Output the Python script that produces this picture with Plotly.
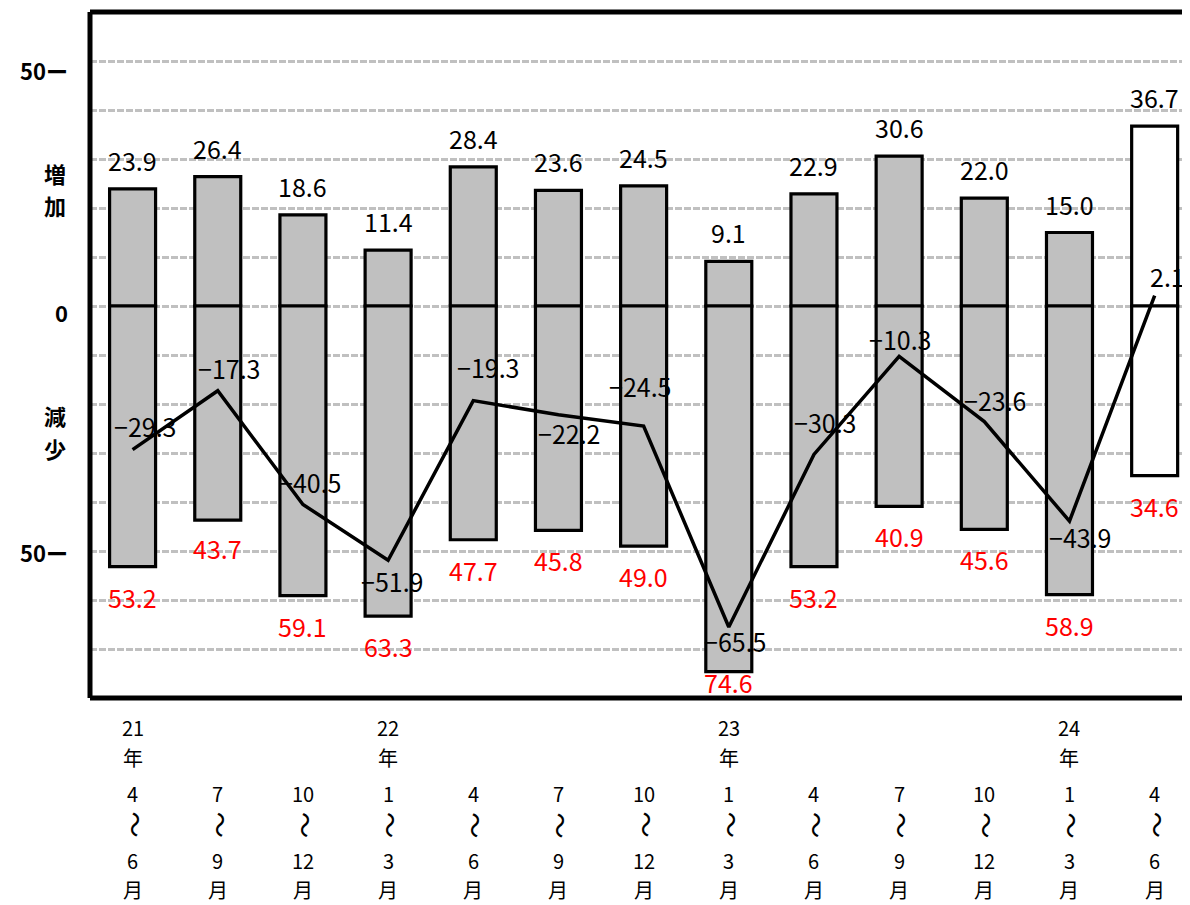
import plotly.graph_objects as go

# ---- data ----
years = ["21", "", "", "22", "", "", "", "23", "", "", "", "24", ""]
start_months = ["4", "7", "10", "1", "4", "7", "10", "1", "4", "7", "10", "1", "4"]
end_months = ["6", "9", "12", "3", "6", "9", "12", "3", "6", "9", "12", "3", "6"]
increase = [23.9, 26.4, 18.6, 11.4, 28.4, 23.6, 24.5, 9.1, 22.9, 30.6, 22.0, 15.0, 36.7]
decrease = [53.2, 43.7, 59.1, 63.3, 47.7, 45.8, 49.0, 74.6, 53.2, 40.9, 45.6, 58.9, 34.6]
net = [-29.3, -17.3, -40.5, -51.9, -19.3, -22.2, -24.5, -65.5, -30.3, -10.3, -23.6, -43.9, 2.1]
ytick_vals = [50, 0, -50]
ytick_text = ["50ー", "0", "50ー"]

# ---- styles ----
fill_colors = ["#c0c0c0"] * 12 + ["#ffffff"]
net_dx = [12, 11, 7, 4, 15, 11, -4, 6, 11, 1, 11, 11, 13]
net_dy = [24, 23, 22, -21, 34, -18, 40, -14, 32, 17, 22, -16, 20]
dec_dy = [-30, -28, -30, -30, -30, -30, -30, -10, -30, -30, -30, -30, -30]
FONT = "Noto Sans CJK JP, DejaVu Sans, sans-serif"
PAGE_OFF = 8  # body margin of the html page

x = list(range(len(increase)))

fig = go.Figure()
fig.add_bar(x=x, y=increase, width=0.54, marker=dict(color=fill_colors, line=dict(color="black", width=3.2)))
fig.add_bar(x=x, y=[-d for d in decrease], width=0.54, marker=dict(color=fill_colors, line=dict(color="black", width=3.2)))
fig.add_scatter(x=x, y=net, mode="lines", line=dict(color="black", width=3.5))

ann = []
for i in x:
    ann.append(dict(x=i, y=increase[i], text=f"{increase[i]:.1f}", showarrow=False,
                    yanchor="middle", yshift=29, font=dict(size=25, color="black", family=FONT)))
    ann.append(dict(x=i, y=-decrease[i], text=f"{decrease[i]:.1f}", showarrow=False,
                    yanchor="middle", yshift=dec_dy[i], font=dict(size=25, color="red", family=FONT)))
    t = f"{net[i]:.1f}".replace("-", "\u2212")
    ann.append(dict(x=i, y=net[i], text=t, showarrow=False, yanchor="middle",
                    xshift=net_dx[i], yshift=net_dy[i], font=dict(size=25, color="black", family=FONT)))
    rows = [years[i], "年" if years[i] else "", start_months[i], "\u301c", end_months[i], "月"]
    offs = [29, 59, 95, 127, 162, 191]
    for r, (txt, o) in enumerate(zip(rows, offs)):
        if not txt:
            continue
        ann.append(dict(x=i, xref="x", y=0, yref="paper", text=txt, showarrow=False,
                        yanchor="middle", yshift=-o, textangle=-90 if r == 3 else 0,
                        font=dict(size=26 if r == 3 else 20, color="black", family=FONT)))

for v, t, s in zip(ytick_vals, ytick_text, [-9, -6, -1]):
    ann.append(dict(x=0, xref="paper", y=v, yref="y", text=f"<b>{t}</b>", showarrow=False,
                    xanchor="right", xshift=-20, yanchor="middle", yshift=s,
                    font=dict(size=22, color="black", family=FONT)))
for ch, yv in [("増", 27.1), ("加", 20.6), ("減", -22.2), ("少", -29.0)]:
    ann.append(dict(x=0, xref="paper", y=yv, yref="y", text=f"<b>{ch}</b>", showarrow=False,
                    xanchor="center", xshift=-35, yanchor="middle",
                    font=dict(size=22, color="black", family=FONT)))

shapes = [
    dict(type="line", xref="paper", yref="paper", x0=0, x1=0, y0=0, y1=1, line=dict(color="black", width=5)),
    dict(type="line", xref="paper", yref="paper", x0=0, x1=1, y0=1, y1=1, line=dict(color="black", width=5)),
    dict(type="line", xref="paper", yref="paper", x0=0, x1=1, y0=0, y1=0, line=dict(color="black", width=5)),
]

fig.update_layout(
    width=1190 - PAGE_OFF, height=905 - PAGE_OFF,
    margin=dict(l=90 - PAGE_OFF, r=0, t=12 - PAGE_OFF, b=207, pad=0),
    paper_bgcolor="white", plot_bgcolor="white",
    barmode="relative", showlegend=False,
    annotations=ann, shapes=shapes,
    xaxis=dict(range=[-0.5, 12.415], showticklabels=False, showgrid=False, zeroline=False, fixedrange=True),
    yaxis=dict(range=[-80, 60], tick0=0, dtick=10, showticklabels=False, showgrid=True,
               gridcolor="#c0c0c0", gridwidth=3, griddash="7px,2px", zeroline=False, fixedrange=True),
)

fig.write_html("out.html")
